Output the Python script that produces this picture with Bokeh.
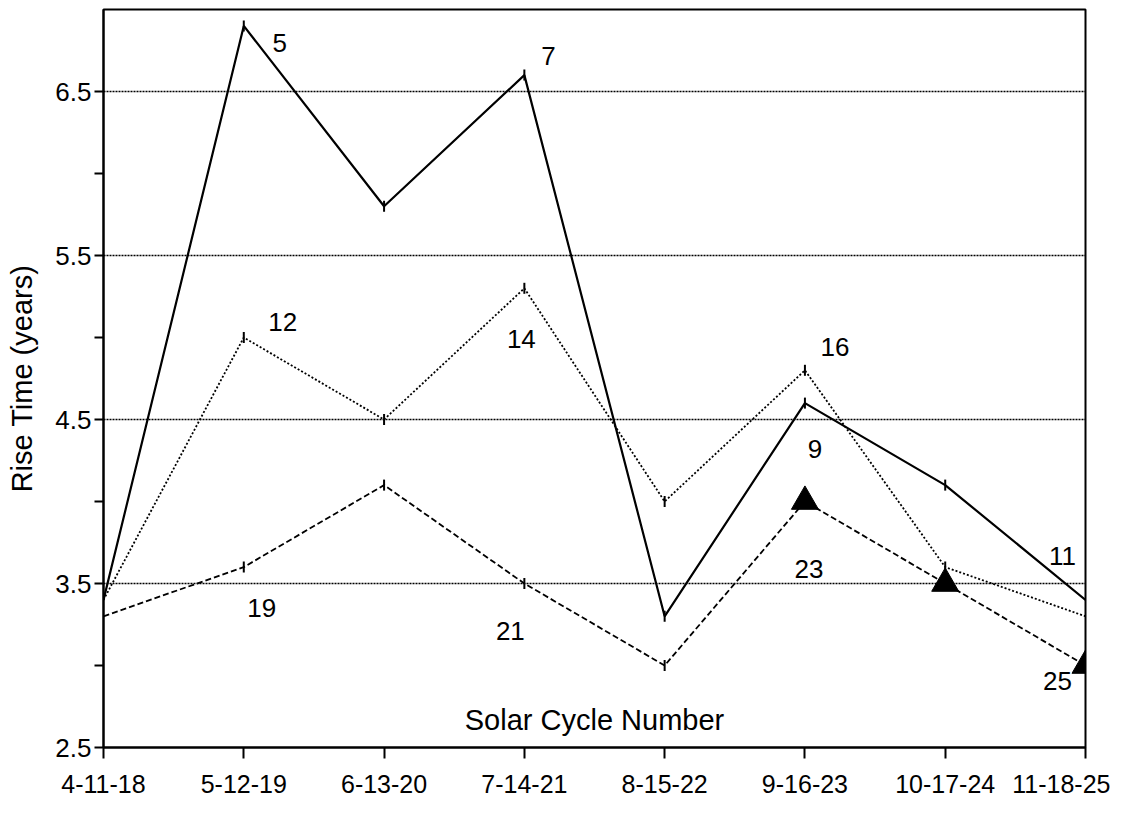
import math
from bokeh.plotting import figure
from bokeh.models import ColumnDataSource, FixedTicker, Range1d
from bokeh.core.properties import value
from bokeh.embed import file_html
from bokeh.resources import INLINE

# ---------------- data ----------------
categories = ["4-11-18", "5-12-19", "6-13-20", "7-14-21",
              "8-15-22", "9-16-23", "10-17-24", "11-18-25"]

# Solid line: cycles 4..11
cycles_solid = [4, 5, 6, 7, 8, 9, 10, 11]
rise_solid = [3.4, 6.9, 5.8, 6.6, 3.3, 4.6, 4.1, 3.4]

# Dotted line: cycles 11..18
cycles_dotted = [11, 12, 13, 14, 15, 16, 17, 18]
rise_dotted = [3.4, 5.0, 4.5, 5.3, 4.0, 4.8, 3.6, 3.3]

# Dashed line: cycles 18..25 (23-25 shown as triangles)
cycles_dashed = [18, 19, 20, 21, 22, 23, 24, 25]
rise_dashed = [3.3, 3.6, 4.1, 3.5, 3.0, 4.0, 3.5, 3.0]
predicted_dashed = [False, False, False, False, False, True, True, True]

labeled_solid = [5, 7, 9, 11]
labeled_dotted = [12, 14, 16]
labeled_dashed = [19, 21, 23, 25]

y_ticks = [2.5, 3.5, 4.5, 5.5, 6.5]
y_minor = [3.0, 4.0, 5.0, 6.0]
grid_ticks = [3.5, 4.5, 5.5, 6.5]

# label pixel offsets (styling)
off_solid = [(36, 17), (24, -19), (10, 46), (-23, -44)]
off_dotted = [(39, -16), (-3, 51), (30, -23)]
off_dashed = [(18, 41), (-14, 47), (4, 67), (-28, 15)]

FONT = "Liberation Sans"
xs = list(range(len(categories)))

p = figure(frame_width=982, frame_height=738,
           x_range=Range1d(0, len(categories) - 1),
           y_range=Range1d(2.5, 7.0),
           output_backend="svg", toolbar_location=None,
           min_border_left=103, min_border_top=9, min_border_right=25,
           min_border_bottom=58)
p.background_fill_color = "white"
p.border_fill_color = "white"
p.outline_line_color = "black"
p.outline_line_width = 2

# grid
p.xgrid.visible = False
p.ygrid.ticker = FixedTicker(ticks=grid_ticks)
p.ygrid.grid_line_color = "black"
p.ygrid.grid_line_width = 1.5
p.ygrid.grid_line_dash = "2 1"

# y axis
ya = p.yaxis[0]
ya.ticker = FixedTicker(ticks=y_ticks, minor_ticks=y_minor)
ya.axis_label = "Rise Time (years)"
ya.axis_label_text_font = FONT
ya.axis_label_text_font_size = "29px"
ya.axis_label_text_font_style = "normal"
ya.axis_label_text_color = "black"
ya.axis_label_standoff = 14
ya.major_label_text_font = FONT
ya.major_label_text_font_size = "26px"
ya.major_label_text_color = "black"
ya.major_label_standoff = 3
ya.axis_line_width = 2
ya.axis_line_color = "black"
ya.major_tick_out = 9
ya.major_tick_in = 0
ya.minor_tick_out = 9
ya.minor_tick_in = 0
ya.major_tick_line_width = 2
ya.minor_tick_line_width = 2

# x axis
xa = p.xaxis[0]
xa.ticker = FixedTicker(ticks=xs)
xa.major_label_overrides = {i: c for i, c in zip(xs, categories)}
xa.major_label_text_font = FONT
xa.major_label_text_font_size = "25px"
xa.major_label_text_color = "black"
xa.major_label_standoff = 16
xa.axis_line_width = 2
xa.axis_line_color = "black"
xa.major_tick_out = 11
xa.major_tick_in = 0
xa.major_tick_line_width = 2
xa.minor_tick_out = 0
xa.minor_tick_in = 0

# lines
p.line(xs, rise_solid, line_color="black", line_width=2.2)
p.line(xs, rise_dotted, line_color="black", line_width=1.8, line_dash="2 2")
p.line(xs, rise_dashed, line_color="black", line_width=1.8, line_dash="6 3")

# vertex tick marks (interior points)
inner = xs[1:-1]
p.scatter(inner, rise_solid[1:-1], marker="dash", angle=math.pi / 2,
          size=11, line_color="black", line_width=2)
p.scatter(inner, rise_dotted[1:-1], marker="dash", angle=math.pi / 2,
          size=11, line_color="black", line_width=2)
tick_x = [x for x, pr in zip(xs, predicted_dashed) if not pr][1:]
tick_y = [y for y, pr in zip(rise_dashed, predicted_dashed) if not pr][1:]
p.scatter(tick_x, tick_y, marker="dash", angle=math.pi / 2,
          size=11, line_color="black", line_width=2)
tri_x = [x for x, pr in zip(xs, predicted_dashed) if pr]
tri_y = [y for y, pr in zip(rise_dashed, predicted_dashed) if pr]
p.scatter(tri_x, tri_y, marker="triangle", size=27,
          fill_color="black", line_color="black")


def add_labels(cycles, rises, labeled, offsets):
    lx, ly, lt, dx, dy = [], [], [], [], []
    for c, (ox, oy) in zip(labeled, offsets):
        i = cycles.index(c)
        lx.append(xs[i])
        ly.append(rises[i])
        lt.append(str(c))
        dx.append(ox)
        dy.append(oy)
    src = ColumnDataSource(dict(x=lx, y=ly, text=lt, dx=dx, dy=dy))
    p.text(x="x", y="y", text="text", x_offset="dx", y_offset="dy",
           source=src, text_font=value(FONT), text_font_size="26px",
           text_align="center", text_baseline="middle", text_color="black")


add_labels(cycles_solid, rise_solid, labeled_solid, off_solid)
add_labels(cycles_dotted, rise_dotted, labeled_dotted, off_dotted)
add_labels(cycles_dashed, rise_dashed, labeled_dashed, off_dashed)

# in-plot x title
p.text(x=[(len(categories) - 1) / 2], y=[2.5], text=["Solar Cycle Number"],
       y_offset=-12, text_font=value(FONT), text_font_size="29px",
       text_align="center", text_baseline="bottom", text_color="black")

open("out.html", "w").write(file_html(p, INLINE))
